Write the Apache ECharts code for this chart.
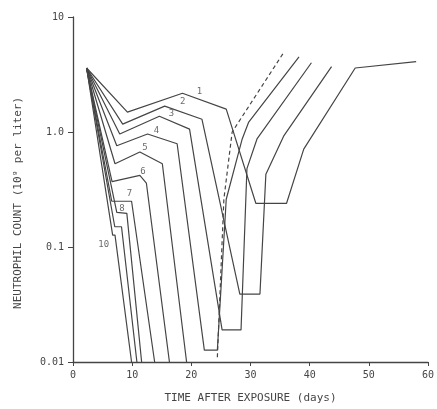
<!DOCTYPE html>
<html>
<head>
<meta charset="utf-8">
<script src="https://cdn.jsdelivr.net/npm/echarts@6/dist/echarts.min.js"></script>
<style>
  html, body { margin: 0; padding: 0; background: #fff; }
  #chart { width: 437px; height: 409px; }
</style>
</head>
<body>
<div id="chart"></div>
<script>
// [day, neutrophil count (10^9 per liter)] for each dose group
const group1 = [[2.3, 3.6], [9.2, 1.49], [18.5, 2.17], [25.9, 1.58], [30.9, 0.24], [36.1, 0.24], [39.0, 0.71], [47.7, 3.6], [58.0, 4.1]]
const group2 = [[2.3, 3.6], [8.4, 1.17], [15.5, 1.68], [21.8, 1.29], [28.2, 0.039], [31.6, 0.039], [32.6, 0.43], [35.6, 0.92], [43.7, 3.7]]
const group3 = [[2.3, 3.6], [7.9, 0.96], [14.6, 1.37], [19.7, 1.06], [25.2, 0.019], [28.4, 0.019], [29.4, 0.48], [31.1, 0.87], [40.3, 4.0]]
const group4 = [[2.3, 3.6], [7.4, 0.76], [12.6, 0.96], [17.6, 0.79], [22.2, 0.0127], [24.4, 0.0127], [25.9, 0.26], [28.6, 0.87], [29.7, 1.22], [38.2, 4.5]]
const group5 = [[2.3, 3.6], [7.1, 0.53], [11.3, 0.67], [15.1, 0.53], [19.2, 0.01]]
const group6 = [[2.3, 3.6], [6.6, 0.37], [11.3, 0.42], [12.4, 0.36], [16.3, 0.01]]
const group7 = [[2.3, 3.6], [6.55, 0.25], [9.9, 0.25], [13.8, 0.01]]
const group8 = [[2.3, 3.6], [7.4, 0.20], [9.1, 0.196], [11.6, 0.01]]
const group9 = [[2.3, 3.6], [7.06, 0.15], [8.2, 0.15], [10.8, 0.01]]
const group10 = [[2.3, 3.6], [6.7, 0.127], [7.1, 0.127], [9.9, 0.01]]
const dashedRecovery = [[24.4, 0.011], [25.5, 0.26], [26.9, 1.0], [35.6, 4.9]]

const groups = [group1, group2, group3, group4, group5, group6, group7, group8, group9, group10]
const groupNames = ['1', '2', '3', '4', '5', '6', '7', '8', '9', '10']
// which point of each curve carries its number (-1 = not printed)
const labelPoint = [2, 2, 2, 2, 2, 2, 2, 2, -1, 1]

const xTicks = [0, 10, 20, 30, 40, 50, 60]
const yTicks = [0.01, 0.1, 1, 10]
const yTickText = ['0.01', '0.1', '1.0', '10']

const ink = '#454545'
const font = 'DejaVu Sans Mono'

// label nudges, in pixels from the anchor point
const labelOffsets = [[17, -2], [18, -4], [12, -3], [9, -3], [5, -4], [3, -4], [-2, -8], [-5, -5], [0, 0], [-9, 10]]

const series = groups.map((g, i) => ({
  name: groupNames[i],
  type: 'line',
  data: g,
  showSymbol: false,
  silent: true,
  lineStyle: { color: ink, width: 1.2 }
}))

series.push({
  name: 'dashed',
  type: 'line',
  data: dashedRecovery,
  showSymbol: false,
  silent: true,
  lineStyle: { color: ink, width: 1.2, type: [4, 3] }
})

const labelData = []
groups.forEach((g, i) => {
  if (labelPoint[i] < 0) return
  labelData.push({
    value: g[labelPoint[i]],
    name: groupNames[i],
    label: { offset: labelOffsets[i] }
  })
})

series.push({
  type: 'scatter',
  data: labelData,
  symbolSize: 1,
  silent: true,
  itemStyle: { color: 'rgba(0,0,0,0)' },
  label: {
    show: true,
    position: 'inside',
    formatter: p => p.name,
    color: ink,
    fontFamily: font,
    fontSize: 9
  }
})

const chart = echarts.init(document.getElementById('chart'))
chart.setOption({
  animation: false,
  backgroundColor: '#fff',
  grid: { left: 73, right: 8, top: 17, bottom: 44 },
  xAxis: {
    type: 'value',
    min: xTicks[0],
    max: xTicks[xTicks.length - 1],
    interval: 10,
    name: 'TIME AFTER EXPOSURE (days)',
    nameLocation: 'middle',
    nameGap: 31,
    nameTextStyle: { color: ink, fontFamily: font, fontSize: 11 },
    axisLine: { onZero: false, lineStyle: { color: ink, width: 1.3 } },
    axisTick: { show: true, length: 4, lineStyle: { color: ink } },
    axisLabel: { color: ink, fontFamily: font, fontSize: 10, margin: 8 },
    splitLine: { show: false }
  },
  yAxis: {
    type: 'log',
    logBase: 10,
    min: yTicks[0],
    max: yTicks[yTicks.length - 1],
    axisLine: { show: true, lineStyle: { color: ink, width: 1.3 } },
    axisTick: { show: true, length: 5, lineStyle: { color: ink } },
    axisLabel: {
      color: ink, fontFamily: font, fontSize: 10, margin: 9,
      formatter: v => {
        const k = yTicks.findIndex(t => Math.abs(Math.log10(t) - Math.log10(v)) < 1e-6)
        return k >= 0 ? yTickText[k] : ''
      }
    },
    splitLine: { show: false },
    minorTick: { show: false }
  },
  graphic: [{
    type: 'text',
    left: 13,
    top: 97,
    rotation: Math.PI / 2,
    style: {
      text: 'NEUTROPHIL COUNT (10⁹ per liter)',
      fill: ink,
      font: '11px "DejaVu Sans Mono"'
    }
  }],
  series: series
})
</script>
</body>
</html>
